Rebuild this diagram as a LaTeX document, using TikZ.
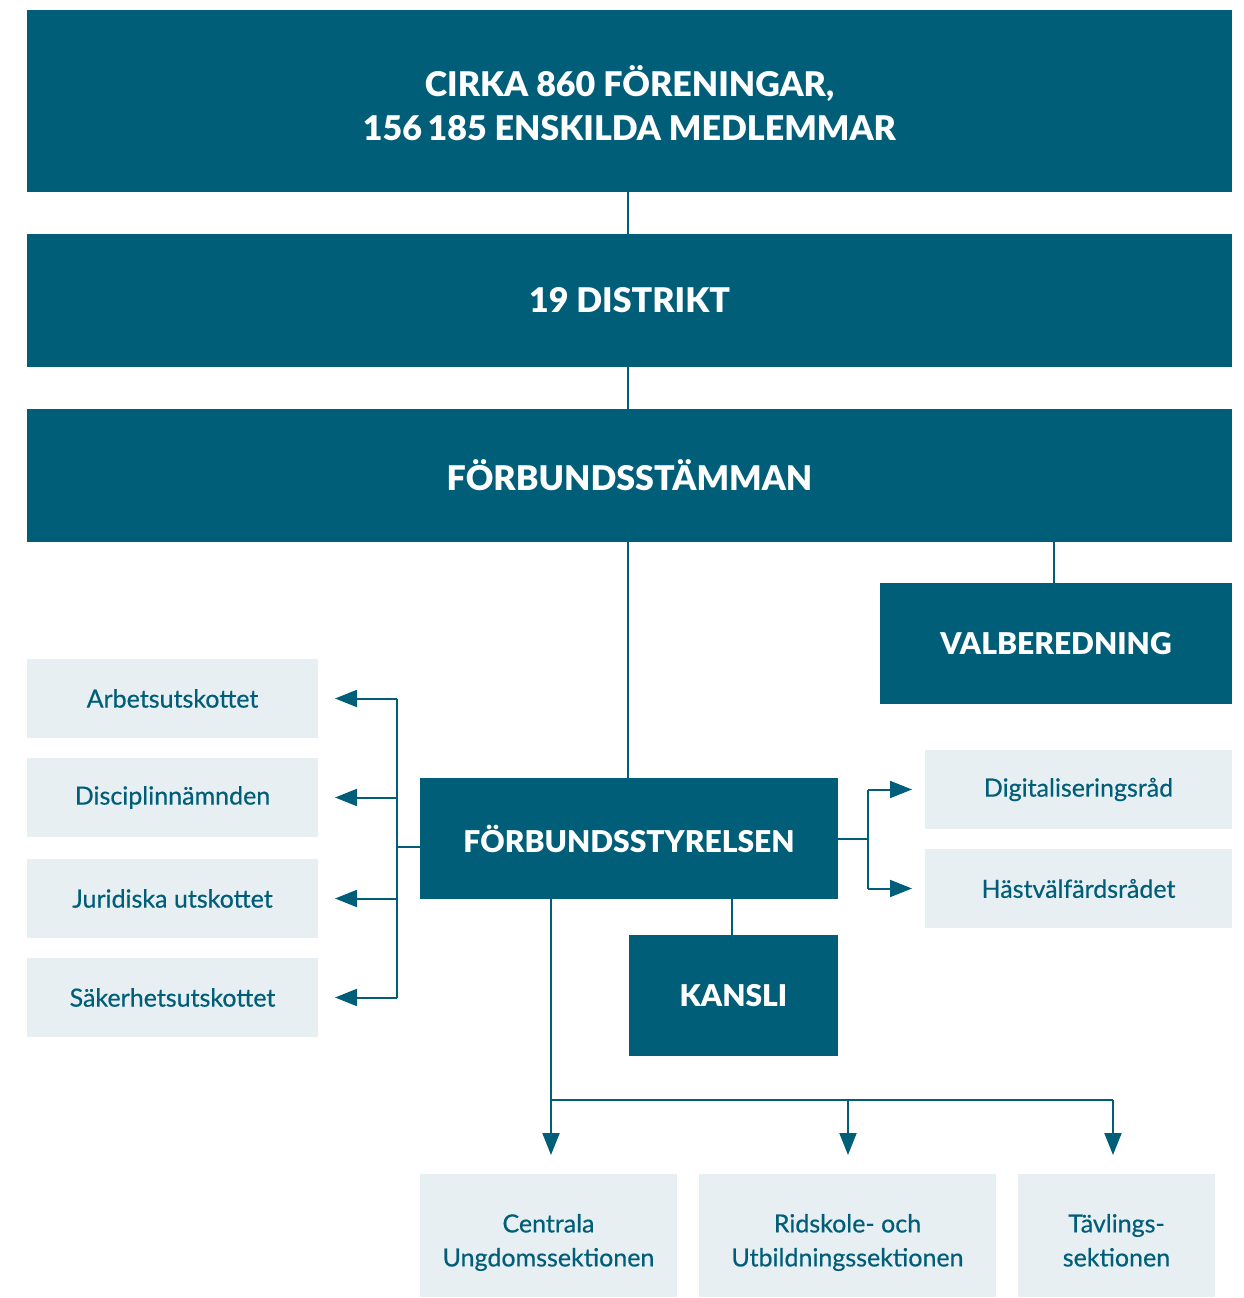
\documentclass[tikz,border=0pt]{standalone}
\usepackage{fontspec}
\setmainfont{Lato}
\newfontfamily\heavyfont{Lato Black}
\newfontfamily\medfont{Lato}[FakeBold=0.5]
\usetikzlibrary{arrows.meta,positioning}
\definecolor{sfdark}{RGB}{0,94,120}
\definecolor{sflight}{RGB}{232,239,243}

\begin{document}
\begin{tikzpicture}[x=1pt,y=-1pt,
    darkbox/.style={fill=sfdark,text=white,inner sep=0pt,outer sep=0pt,
      font=\fontsize{30}{36}\selectfont\heavyfont,align=center},
    bigbox/.style={darkbox,minimum width=1205pt,
      font=\fontsize{34}{44}\selectfont\heavyfont},
    lightbox/.style={fill=sflight,text=sfdark,inner sep=0pt,outer sep=0pt,
      font=\fontsize{25}{34}\selectfont\medfont,align=center},
    conn/.style={draw=sfdark,line width=2pt},
    arr/.style={conn,-{Triangle[length=22pt,width=17pt]}}]
      \useasboundingbox (0,0) rectangle (1243,1298);

      %%%% top rows
      \node[bigbox,minimum height=182pt] (fore) at (629.5,101)
        {\rule{0pt}{36pt}CIRKA 860 FÖRENINGAR,\\156\,185 ENSKILDA MEDLEMMAR};
      \node[bigbox,minimum height=133pt] (dist) at (629.5,300.5) {19 DISTRIKT};
      \node[bigbox,minimum height=133pt] (stamma) at (629.5,475.5) {FÖRBUNDSSTÄMMAN};

      \node[darkbox,minimum width=352pt,minimum height=121pt] (valb) at (1056,643.5) {VALBEREDNING};
      \node[darkbox,minimum width=418pt,minimum height=121pt] (styr) at (629,838.5) {FÖRBUNDSSTYRELSEN};
      \node[darkbox,minimum width=209pt,minimum height=121pt] (kansli) at (733.5,995.5) {KANSLI};

      \draw[conn] (fore.south -| 628,0) -- (dist.north -| 628,0);
      \draw[conn] (dist.south -| 628,0) -- (stamma.north -| 628,0);
      \draw[conn] (stamma.south -| 628,0) -- (styr.north -| 628,0);
      \draw[conn] (stamma.south -| 1054,0) -- (valb.north -| 1054,0);
      \draw[conn] (styr.south -| 732,0) -- (kansli.north -| 732,0);

      %%%% left column
      \foreach \n/\y/\t in {arb/698.5/Arbetsutskottet,
                            disc/797.5/Disciplinnämnden,
                            jur/898.5/Juridiska utskottet,
                            sak/997.5/Säkerhetsutskottet}
       {\node[lightbox,minimum width=291pt,minimum height=79pt] (\n) at (172.5,\y) {\t};}

      \coordinate (lj) at (397,847);
      \draw[conn] (styr.west |- lj) -- (lj);
      \draw[conn] (lj |- arb) -- (lj |- sak);
      \foreach \n in {arb,disc,jur,sak}
       {\draw[arr,shorten >=17pt] (lj |- \n) -- (\n.east);}

      %%%% right column
      \node[lightbox,minimum width=307pt,minimum height=79pt] (digi) at (1078.5,789.5) {Digitaliseringsråd};
      \node[lightbox,minimum width=307pt,minimum height=79pt] (hast) at (1078.5,888.5) {Hästvälfärdsrådet};

      \coordinate (rj) at (868,839);
      \draw[conn] (styr.east |- rj) -- (rj);
      \draw[conn] (rj |- digi) -- (rj |- hast);
      \foreach \n in {digi,hast}
       {\draw[arr,shorten >=13pt] (rj |- \n) -- (\n.west);}

      %%%% sections
      \node[lightbox,minimum width=257pt,minimum height=123pt] (cus) at (548.5,1235.5)
        {\rule{0pt}{38pt}Centrala\\Ungdomssektionen\strut};
      \node[lightbox,minimum width=297pt,minimum height=123pt] (rid) at (847.5,1235.5)
        {\rule{0pt}{38pt}Ridskole- och\\Utbildningssektionen\strut};
      \node[lightbox,minimum width=197pt,minimum height=123pt] (tav) at (1116.5,1235.5)
        {\rule{0pt}{38pt}Tävlings-\\sektionen\strut};

      \coordinate (bj) at (551,1100);
      \draw[arr,shorten >=19pt] (styr.south -| bj) -- (bj |- cus.north);
      \draw[conn] (bj) -- (1113,1100);
      \draw[arr,shorten >=19pt] (848,1100) -- (848,0 |- rid.north);
      \draw[arr,shorten >=19pt] (1113,1100) -- (1113,0 |- tav.north);
    \end{tikzpicture}
\end{document}
